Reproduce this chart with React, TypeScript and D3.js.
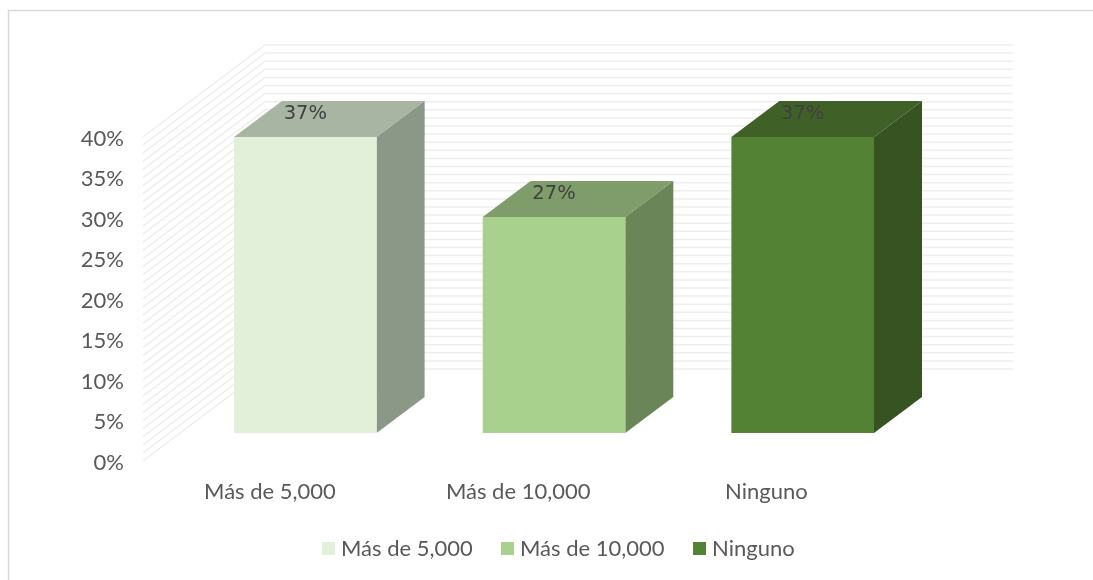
import React from "react";
import * as d3 from "d3";

const categories = ["Más de 5,000", "Más de 10,000", "Ninguno"];
const values = [37, 27, 37];
const labels = ["37%", "27%", "37%"];
const frontColors = ["#e2efd9", "#a9d18e", "#548235"];
const topColors = ["#a9b5a3", "#7f9d6b", "#3f6128"];
const sideColors = ["#8b9787", "#6a8558", "#375322"];
const ticks = d3.range(0, 41, 5);
const gridLevels = d3.range(0, 41, 1);
const categoryLabelOffsets = [36, 35.5, 35];
const legendX = [322, 501, 693];

const font = "Lato, 'Open Sans', sans-serif";
const textColor = "#595959";

export default function App() {
  const wallY = d3.scaleLinear().domain([0, 40]).range([461, 137]);
  const barY = d3.scaleLinear().domain([0, 37]).range([433, 137]);
  const x = d3.scaleBand<string>().domain(categories).range([234, 874]).paddingInner(0.4266).paddingOuter(0);
  const barW = x.bandwidth();
  const wall = { left: 143, backX: 265, right: 1013, dy: 92 };
  const depth = { dx: 48, dy: 36 };
  const line = d3.line();

  return (
    <svg width={1093} height={580} style={{ position: "fixed", left: 0, top: 0, background: "#fff" }}>
      <g style={{ filter: "blur(0.4px)" }}>
        <path d="M8.5 580V10.5H1093" fill="none" stroke="#d9d9d9" strokeWidth={1.5} />
        {gridLevels.map((g) => (
          <path
            key={g}
            stroke="#eeeeee"
            strokeWidth={1.5}
            fill="none"
            d={line([[wall.left, wallY(g)], [wall.backX, wallY(g) - wall.dy], [wall.right, wallY(g) - wall.dy]]) ?? ""}
          />
        ))}
        {ticks.map((t) => (
          <text key={t} x={124} y={wallY(t) + 1} dy="0.35em" textAnchor="end" fontFamily={font} fontSize={22} fill={textColor}>
            {t}%
          </text>
        ))}
        {values.map((v, i) => {
          const x0 = x(categories[i]) ?? 0;
          const x1 = x0 + barW;
          const y0 = barY(0);
          const y1 = barY(v);
          const top = line([[x0, y1], [x1, y1], [x1 + depth.dx, y1 - depth.dy], [x0 + depth.dx, y1 - depth.dy]]) + "Z";
          const side = line([[x1, y1], [x1 + depth.dx, y1 - depth.dy], [x1 + depth.dx, y0 - depth.dy], [x1, y0]]) + "Z";
          return (
            <g key={categories[i]}>
              <path d={top} fill={topColors[i]} />
              <path d={side} fill={sideColors[i]} />
              <rect x={x0} y={y1} width={barW} height={y0 - y1} fill={frontColors[i]} />
              <text x={x0 + barW / 2} y={y1 - 25} dy="0.35em" textAnchor="middle" fontFamily="'DejaVu Sans', sans-serif" fontSize={19.5} fill="#404040">
                {labels[i]}
              </text>
              <text x={x0 + categoryLabelOffsets[i]} y={491} dy="0.35em" textAnchor="middle" fontFamily={font} fontSize={22} fill={textColor}>
                {categories[i]}
              </text>
            </g>
          );
        })}
        {legendX.map((lx, i) => (
          <g key={categories[i]}>
            <rect x={lx} y={542} width={13} height={13} fill={frontColors[i]} />
            <text x={lx + 19} y={548} dy="0.35em" fontFamily={font} fontSize={22} fill={textColor}>
              {categories[i]}
            </text>
          </g>
        ))}
      </g>
    </svg>
  );
}
